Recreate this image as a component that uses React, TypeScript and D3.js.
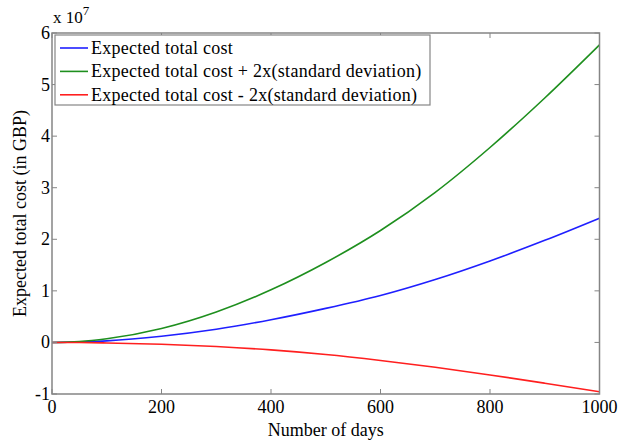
import React, { useEffect, useRef } from 'react';
import * as d3 from 'd3';

// days on the x axis, costs in units of 1e7 GBP
const days = [0, 50, 100, 200, 300, 400, 500, 600, 700, 800, 900, 1000];
const expected = [0, 0.008, 0.03, 0.12, 0.255, 0.44, 0.66, 0.91, 1.22, 1.58, 1.98, 2.41];
const upper = [0, 0.016, 0.07, 0.27, 0.59, 1.02, 1.55, 2.17, 2.91, 3.78, 4.74, 5.77];
const lower = [0, -0.002, -0.01, -0.035, -0.08, -0.145, -0.235, -0.35, -0.48, -0.63, -0.79, -0.955];

const seriesNames = [
  'Expected total cost',
  'Expected total cost + 2x(standard deviation)',
  'Expected total cost - 2x(standard deviation)',
];
const seriesColors = ['#1f1fff', '#1e8f1e', '#ff1f1f'];
const xTicks = [0, 200, 400, 600, 800, 1000];
const yTicks = [-1, 0, 1, 2, 3, 4, 5, 6];

const FONT = '"Liberation Serif", serif';

const App = () => {
  const ref = useRef<SVGSVGElement>(null);

  useEffect(() => {
    const svg = d3.select(ref.current);
    svg.selectAll('*').remove();

    const margin = { top: 33, right: 25.5, bottom: 49, left: 52 };
    const width = 625 - margin.left - margin.right;
    const height = 443 - margin.top - margin.bottom;

    const x = d3.scaleLinear().domain([0, 1000]).range([0, width]);
    const y = d3.scaleLinear().domain([-1, 6]).range([height, 0]);

    const g = svg.append('g').attr('transform', `translate(${margin.left},${margin.top})`);

    const axisColor = '#858585';

    // curves
    const line = d3.line<number>()
      .x((_, i) => x(days[i]))
      .y(d => y(d))
      .curve(d3.curveMonotoneX);

    [expected, upper, lower].forEach((s, i) => {
      g.append('path')
        .attr('d', line(s))
        .attr('fill', 'none')
        .attr('stroke', seriesColors[i])
        .attr('stroke-width', 1.6);
    });

    // box
    g.append('rect')
      .attr('x', 0).attr('y', 0)
      .attr('width', width).attr('height', height)
      .attr('fill', 'none')
      .attr('stroke', axisColor)
      .attr('stroke-width', 1.5);

    const tl = 5;
    xTicks.forEach(t => {
      g.append('line').attr('x1', x(t)).attr('x2', x(t)).attr('y1', height).attr('y2', height - tl)
        .attr('stroke', axisColor);
      g.append('line').attr('x1', x(t)).attr('x2', x(t)).attr('y1', 0).attr('y2', tl)
        .attr('stroke', axisColor);
      g.append('text')
        .attr('x', x(t)).attr('y', height + 19)
        .attr('text-anchor', 'middle')
        .attr('font-family', FONT).attr('font-size', 18)
        .text(t);
    });

    yTicks.forEach(t => {
      g.append('line').attr('x1', 0).attr('x2', tl).attr('y1', y(t)).attr('y2', y(t))
        .attr('stroke', axisColor);
      g.append('line').attr('x1', width).attr('x2', width - tl).attr('y1', y(t)).attr('y2', y(t))
        .attr('stroke', axisColor);
      g.append('text')
        .attr('x', -2).attr('y', y(t) + 6)
        .attr('text-anchor', 'end')
        .attr('font-family', FONT).attr('font-size', 18)
        .text(t);
    });

    // exponent
    const ex = g.append('text')
      .attr('x', 1).attr('y', -10.5)
      .attr('font-family', FONT).attr('font-size', 17);
    ex.append('tspan').text('x 10');
    ex.append('tspan').attr('dy', -8).attr('font-size', 13).text('7');

    // axis labels
    g.append('text')
      .attr('x', width / 2).attr('y', height + 42)
      .attr('text-anchor', 'middle')
      .attr('font-family', FONT).attr('font-size', 18)
      .text('Number of days');

    g.append('text')
      .attr('transform', `translate(${-26},${height / 2}) rotate(-90)`)
      .attr('text-anchor', 'middle')
      .attr('font-family', FONT).attr('font-size', 18)
      .text('Expected total cost (in GBP)');

    // legend
    const lg = g.append('g').attr('transform', 'translate(3,2)');
    lg.append('rect')
      .attr('width', 375).attr('height', 70)
      .attr('fill', 'white')
      .attr('stroke', axisColor)
      .attr('stroke-width', 1.2);
    seriesNames.forEach((name, i) => {
      const cy = 13 + i * 23.4;
      lg.append('line')
        .attr('x1', 5).attr('x2', 33).attr('y1', cy).attr('y2', cy)
        .attr('stroke', seriesColors[i]).attr('stroke-width', 1.6);
      lg.append('text')
        .attr('x', 36).attr('y', cy + 6)
        .attr('font-family', FONT).attr('font-size', 18)
        .attr('letter-spacing', 0.27)
        .text(name);
    });
  }, []);

  return (
    <svg ref={ref} width={625} height={443} style={{ position: 'absolute', left: 0, top: 0, background: 'white' }}></svg>
  );
};

export default App;
